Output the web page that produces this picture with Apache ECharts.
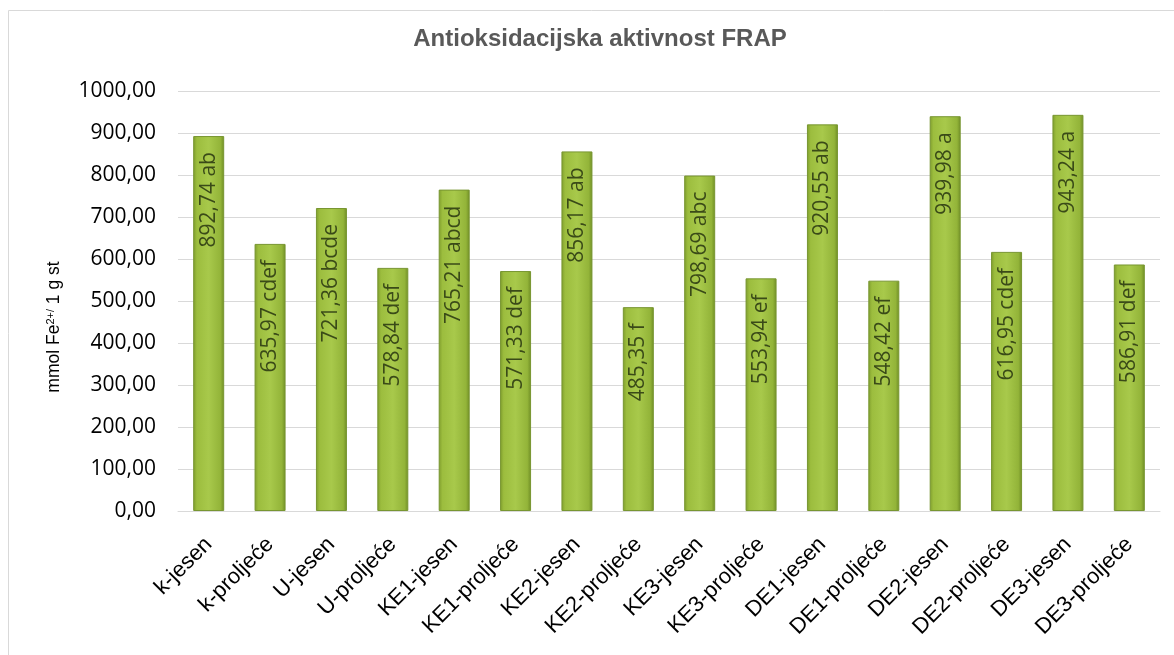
<!DOCTYPE html>
<html>
<head>
<meta charset="utf-8">
<script src="https://cdn.jsdelivr.net/npm/echarts@6/dist/echarts.min.js"></script>
<style>
  html, body { margin: 0; padding: 0; background: #fff; }
</style>
</head>
<body>
<div id="main" style="width: 1174px; height: 655px;"></div>
<script>
// kategorije i vrijednosti FRAP
var categories = ['k-jesen', 'k-proljeće', 'U-jesen', 'U-proljeće', 'KE1-jesen', 'KE1-proljeće',
  'KE2-jesen', 'KE2-proljeće', 'KE3-jesen', 'KE3-proljeće', 'DE1-jesen', 'DE1-proljeće',
  'DE2-jesen', 'DE2-proljeće', 'DE3-jesen', 'DE3-proljeće']
var values = [892.74, 635.97, 721.36, 578.84, 765.21, 571.33, 856.17, 485.35,
  798.69, 553.94, 920.55, 548.42, 939.98, 616.95, 943.24, 586.91]
var letters = ['ab', 'cdef', 'bcde', 'def', 'abcd', 'def', 'ab', 'f',
  'abc', 'ef', 'ab', 'ef', 'a', 'cdef', 'a', 'def']

function comma (v) {
  return v.toFixed(2).replace('.', ',')
}

var chart = echarts.init(document.getElementById('main'))
var option = {
  animation: false,
  title: {
    text: 'Antioksidacijska aktivnost FRAP',
    left: 595,
    textAlign: 'center',
    top: 22,
    textStyle: {
      fontFamily: 'Liberation Sans',
      fontSize: 24,
      fontWeight: 'bold',
      color: '#595959'
    }
  },
  graphic: [{
    type: 'rect',
    shape: { x: 8.5, y: 10.5, width: 1200, height: 700 },
    style: { fill: 'none', stroke: '#d9d9d9', lineWidth: 1 },
    silent: true
  }],
  grid: {
    left: 178,
    right: 14,
    top: 91,
    bottom: 144
  },
  xAxis: {
    type: 'category',
    data: categories,
    axisLine: { lineStyle: { color: '#d9d9d9', width: 1 } },
    axisTick: { show: false },
    axisLabel: {
      interval: 0,
      rotate: 45,
      margin: 30,
      fontFamily: 'Liberation Sans',
      fontSize: 22,
      color: '#000'
    }
  },
  yAxis: {
    type: 'value',
    min: 0,
    max: 1000,
    interval: 100,
    name: '{a|mmol Fe}{s|2+/}{a| 1 g st}',
    nameLocation: 'middle',
    nameGap: 114,
    nameRotate: 90,
    nameTextStyle: {
      padding: [0, 52, 0, 0],
      rich: {
        a: { fontFamily: 'Liberation Sans', fontSize: 17.5, color: '#000' },
        s: { fontFamily: 'Liberation Sans', fontSize: 11, color: '#000', verticalAlign: 'top', padding: [0, 0, 8, 0] }
      }
    },
    axisLine: { show: false },
    axisTick: { show: false },
    splitLine: { lineStyle: { color: '#d9d9d9', width: 1 } },
    axisLabel: {
      margin: 22,
      fontFamily: 'Open Sans',
      fontSize: 21,
      color: '#000',
      formatter: function (v) { return comma(v) }
    }
  },
  series: [{
    type: 'bar',
    data: values,
    barWidth: 31,
    itemStyle: {
      color: {
        type: 'linear', x: 0, y: 0, x2: 1, y2: 0,
        colorStops: [
          { offset: 0, color: '#7e9c2c' },
          { offset: 0.12, color: '#9cbd3e' },
          { offset: 0.5, color: '#a8c94b' },
          { offset: 0.88, color: '#93b439' },
          { offset: 1, color: '#6f8d25' }
        ]
      },
      borderColor: '#789631',
      borderWidth: 1
    },
    label: {
      show: true,
      position: 'insideTop',
      rotate: 90,
      align: 'right',
      verticalAlign: 'middle',
      distance: 16,
      fontFamily: 'Open Sans',
      fontSize: 21,
      color: '#3a4a18',
      formatter: function (p) { return comma(p.value) + ' ' + letters[p.dataIndex] }
    }
  }]
}
chart.setOption(option)
</script>
</body>
</html>
